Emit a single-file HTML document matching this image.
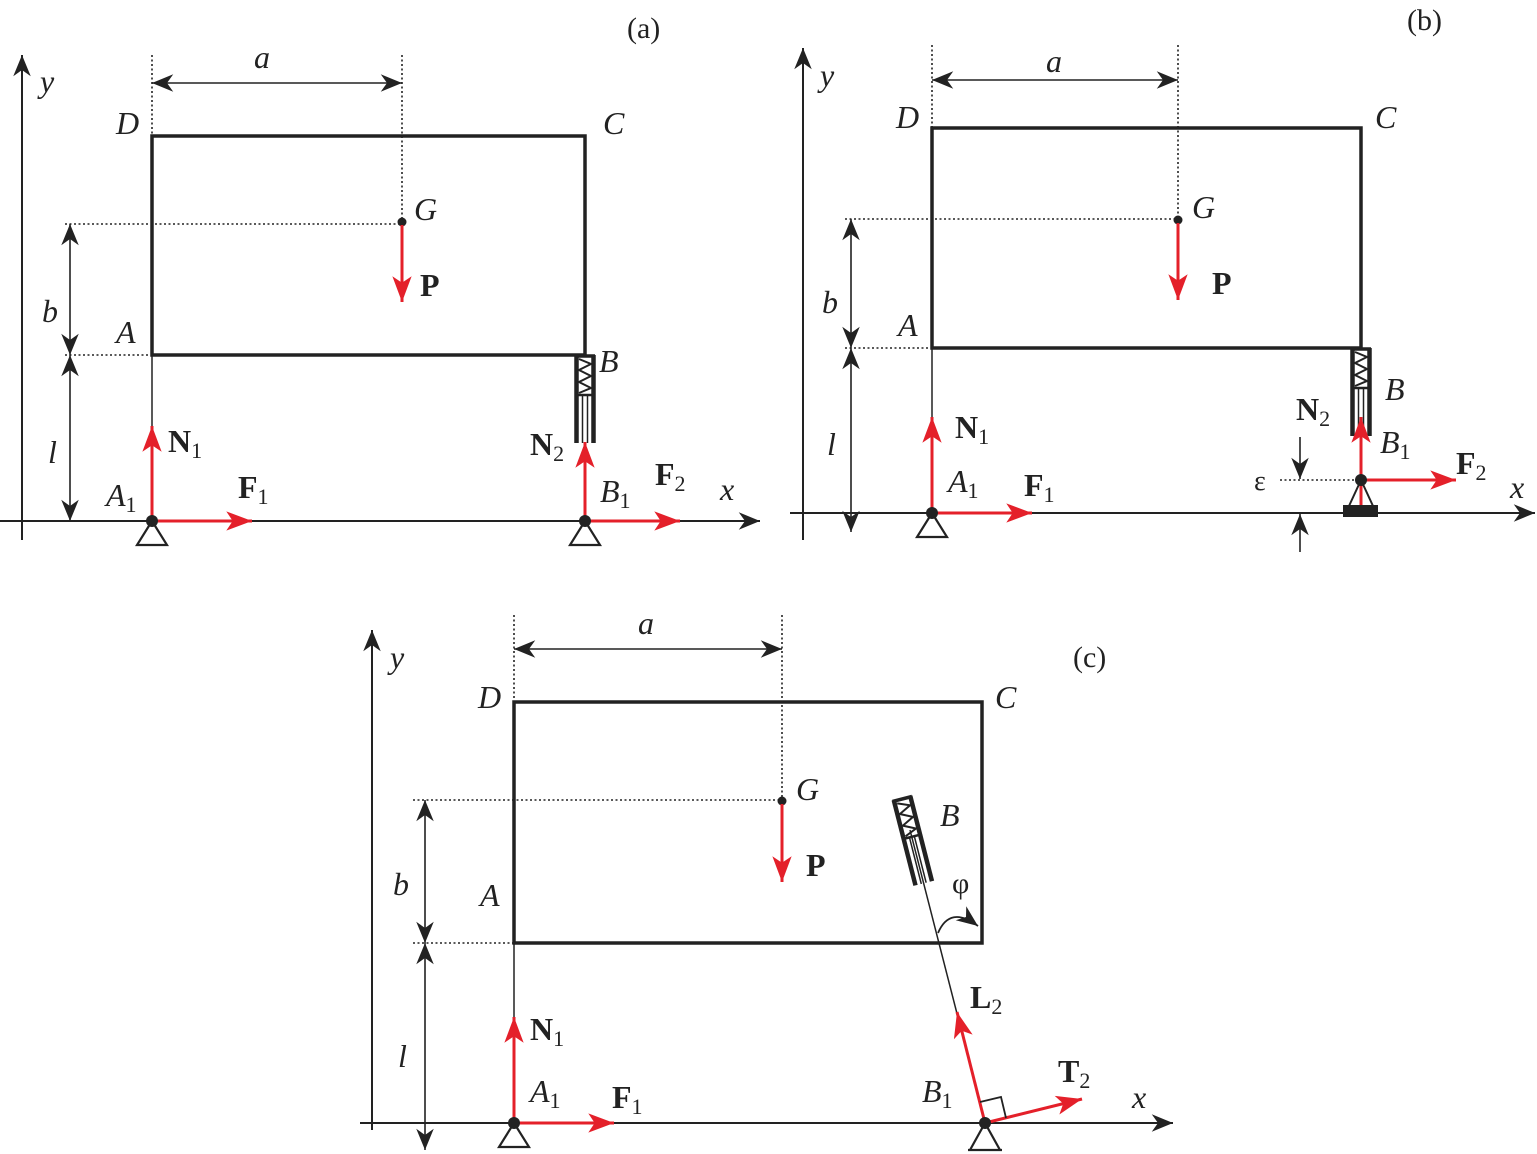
<!DOCTYPE html>
<html><head><meta charset="utf-8"><style>
html,body{margin:0;padding:0;background:#fff}
svg{display:block}
text{font-family:"Liberation Serif","DejaVu Serif",serif;fill:#222}
.it{font-style:italic;font-size:32px}
.bf{font-weight:bold;font-size:32px}
.sub{font-size:22px;font-weight:normal;font-style:normal}
.lb{font-size:30px}
</style></head><body>
<svg width="1537" height="1154" viewBox="0 0 1537 1154" xmlns="http://www.w3.org/2000/svg">
<defs>
<marker id="ak" markerUnits="userSpaceOnUse" markerWidth="30" markerHeight="30" viewBox="-20 -10 24 20" refX="0" refY="0" orient="auto-start-reverse"><path d="M0,0 L-17,-7 L-12,0 L-17,7 Z" fill="#222"/></marker>
<marker id="ar" markerUnits="userSpaceOnUse" markerWidth="30" markerHeight="30" viewBox="-26 -12 28 24" refX="0" refY="0" orient="auto"><path d="M0,0 L-24,-9 L-18,0 L-24,9 Z" fill="#e4202a"/></marker>
<g id="spring" fill="none" stroke="#222">
<line x1="-8.5" y1="0" x2="-8.5" y2="88" stroke-width="4.5"/>
<line x1="8.5" y1="0" x2="8.5" y2="88" stroke-width="4.5"/>
<line x1="-10" y1="1" x2="10" y2="1" stroke-width="3.5"/>
<polyline points="-6,4 6,9 -6,15 6,21 -6,27 6,33 -6,38" stroke-width="2"/>
<line x1="-8" y1="40" x2="8" y2="40" stroke-width="2.5"/>
<line x1="-2.5" y1="40" x2="-2.5" y2="88" stroke-width="1.5"/>
<line x1="2.5" y1="40" x2="2.5" y2="88" stroke-width="1.5"/>
</g>
<g id="pin" fill="none" stroke="#222" stroke-width="2.2"><path d="M0,0 L-15,24 L15,24 Z"/></g>
</defs>

<!-- ============ (a) ============ -->
<text x="627" y="38" class="lb">(a)</text>
<line x1="22" y1="540" x2="22" y2="55" stroke="#222" stroke-width="2" marker-end="url(#ak)"/>
<text x="40" y="92" class="it">y</text>
<line x1="0" y1="521" x2="760" y2="521" stroke="#222" stroke-width="2" marker-end="url(#ak)"/>
<text x="720" y="500" class="it">x</text>
<g stroke="#222" stroke-width="1.6" stroke-dasharray="2,2.5" fill="none">
<line x1="152" y1="55" x2="152" y2="136"/><line x1="402" y1="55" x2="402" y2="222"/>
<line x1="65" y1="224" x2="402" y2="224"/><line x1="65" y1="355" x2="152" y2="355"/>
</g>
<line x1="152" y1="83" x2="402" y2="83" stroke="#222" stroke-width="1.6" marker-start="url(#ak)" marker-end="url(#ak)"/>
<text x="254" y="68" class="it">a</text>
<line x1="70" y1="224" x2="70" y2="355" stroke="#222" stroke-width="1.6" marker-start="url(#ak)" marker-end="url(#ak)"/>
<line x1="70" y1="355" x2="70" y2="521" stroke="#222" stroke-width="1.6" marker-start="url(#ak)" marker-end="url(#ak)"/>
<text x="42" y="322" class="it">b</text><text x="48" y="463" class="it">l</text>
<rect x="152" y="136" width="433" height="219" fill="none" stroke="#222" stroke-width="3.5"/>
<text x="116" y="134" class="it">D</text><text x="603" y="134" class="it">C</text>
<text x="116" y="343" class="it">A</text><text x="599" y="372" class="it">B</text>
<circle cx="402" cy="222" r="4.5" fill="#222"/><text x="414" y="220" class="it">G</text>
<line x1="402" y1="225" x2="402" y2="302" stroke="#e4202a" stroke-width="3" marker-end="url(#ar)"/>
<text x="420" y="296" class="bf">P</text>
<line x1="152" y1="355" x2="152" y2="521" stroke="#222" stroke-width="1.5"/>
<line x1="152" y1="521" x2="152" y2="426" stroke="#e4202a" stroke-width="3" marker-end="url(#ar)"/>
<line x1="152" y1="521" x2="252" y2="521" stroke="#e4202a" stroke-width="3" marker-end="url(#ar)"/>
<text x="168" y="452" class="bf">N<tspan class="sub" dy="6">1</tspan></text>
<text x="238" y="498" class="bf">F<tspan class="sub" dy="6">1</tspan></text>
<text x="106" y="506" class="it">A<tspan class="sub" dy="6">1</tspan></text>
<use href="#pin" x="152" y="521"/><circle cx="152" cy="521" r="6" fill="#222"/>
<use href="#spring" x="585" y="355"/>
<line x1="585" y1="521" x2="585" y2="442" stroke="#e4202a" stroke-width="3" marker-end="url(#ar)"/>
<line x1="585" y1="521" x2="680" y2="521" stroke="#e4202a" stroke-width="3" marker-end="url(#ar)"/>
<text x="530" y="455" class="bf">N<tspan class="sub" dy="6">2</tspan></text>
<text x="655" y="485" class="bf">F<tspan class="sub" dy="6">2</tspan></text>
<text x="600" y="502" class="it">B<tspan class="sub" dy="6">1</tspan></text>
<use href="#pin" x="585" y="521"/><circle cx="585" cy="521" r="6" fill="#222"/>

<!-- ============ (b) ============ -->
<text x="1407" y="30" class="lb">(b)</text>
<line x1="803" y1="540" x2="803" y2="48" stroke="#222" stroke-width="2" marker-end="url(#ak)"/>
<text x="820" y="86" class="it">y</text>
<line x1="790" y1="513" x2="1535" y2="513" stroke="#222" stroke-width="2" marker-end="url(#ak)"/>
<text x="1510" y="498" class="it">x</text>
<g stroke="#222" stroke-width="1.6" stroke-dasharray="2,2.5" fill="none">
<line x1="932" y1="45" x2="932" y2="128"/><line x1="1178" y1="45" x2="1178" y2="218"/>
<line x1="845" y1="219" x2="1178" y2="219"/><line x1="845" y1="348" x2="932" y2="348"/>
<line x1="1280" y1="480" x2="1361" y2="480"/>
</g>
<line x1="932" y1="80" x2="1178" y2="80" stroke="#222" stroke-width="1.6" marker-start="url(#ak)" marker-end="url(#ak)"/>
<text x="1046" y="72" class="it">a</text>
<line x1="851" y1="219" x2="851" y2="348" stroke="#222" stroke-width="1.6" marker-start="url(#ak)" marker-end="url(#ak)"/>
<line x1="851" y1="348" x2="851" y2="532" stroke="#222" stroke-width="1.6" marker-start="url(#ak)" marker-end="url(#ak)"/>
<text x="822" y="313" class="it">b</text><text x="827" y="455" class="it">l</text>
<rect x="932" y="128" width="429" height="220" fill="none" stroke="#222" stroke-width="3.5"/>
<text x="896" y="128" class="it">D</text><text x="1375" y="128" class="it">C</text>
<text x="898" y="336" class="it">A</text><text x="1385" y="400" class="it">B</text>
<circle cx="1178" cy="220" r="4.5" fill="#222"/><text x="1192" y="218" class="it">G</text>
<line x1="1178" y1="223" x2="1178" y2="300" stroke="#e4202a" stroke-width="3" marker-end="url(#ar)"/>
<text x="1212" y="294" class="bf">P</text>
<line x1="932" y1="348" x2="932" y2="513" stroke="#222" stroke-width="1.5"/>
<line x1="932" y1="513" x2="932" y2="417" stroke="#e4202a" stroke-width="3" marker-end="url(#ar)"/>
<line x1="932" y1="513" x2="1032" y2="513" stroke="#e4202a" stroke-width="3" marker-end="url(#ar)"/>
<text x="955" y="438" class="bf">N<tspan class="sub" dy="6">1</tspan></text>
<text x="1024" y="496" class="bf">F<tspan class="sub" dy="6">1</tspan></text>
<text x="948" y="492" class="it">A<tspan class="sub" dy="6">1</tspan></text>
<use href="#pin" x="932" y="513"/><circle cx="932" cy="513" r="6" fill="#222"/>
<use href="#spring" x="1361" y="348"/>
<line x1="1361" y1="480" x2="1361" y2="417" stroke="#e4202a" stroke-width="3" marker-end="url(#ar)"/>
<line x1="1361" y1="480" x2="1456" y2="480" stroke="#e4202a" stroke-width="3" marker-end="url(#ar)"/>
<path d="M1361,480 L1349,506 M1361,480 L1373,506" stroke="#222" stroke-width="2" fill="none"/>
<line x1="1361" y1="480" x2="1361" y2="506" stroke="#e4202a" stroke-width="3"/>
<rect x="1343" y="505" width="35" height="12" fill="#222"/>
<circle cx="1361" cy="480" r="6" fill="#222"/>
<text x="1296" y="420" class="bf">N<tspan class="sub" dy="6">2</tspan></text>
<text x="1456" y="474" class="bf">F<tspan class="sub" dy="6">2</tspan></text>
<text x="1380" y="453" class="it">B<tspan class="sub" dy="6">1</tspan></text>
<line x1="1300" y1="437" x2="1300" y2="479" stroke="#222" stroke-width="1.6" marker-end="url(#ak)"/>
<line x1="1300" y1="552" x2="1300" y2="514" stroke="#222" stroke-width="1.6" marker-end="url(#ak)"/>
<text x="1254" y="490" style="font-size:28px">ε</text>

<!-- ============ (c) ============ -->
<text x="1073" y="667" class="lb">(c)</text>
<line x1="372" y1="1130" x2="372" y2="630" stroke="#222" stroke-width="2" marker-end="url(#ak)"/>
<text x="390" y="668" class="it">y</text>
<line x1="360" y1="1123" x2="1173" y2="1123" stroke="#222" stroke-width="2" marker-end="url(#ak)"/>
<text x="1132" y="1108" class="it">x</text>
<g stroke="#222" stroke-width="1.6" stroke-dasharray="2,2.5" fill="none">
<line x1="514" y1="615" x2="514" y2="702"/><line x1="782" y1="615" x2="782" y2="798"/>
<line x1="413" y1="800" x2="782" y2="800"/><line x1="413" y1="943" x2="514" y2="943"/>
</g>
<line x1="514" y1="649" x2="782" y2="649" stroke="#222" stroke-width="1.6" marker-start="url(#ak)" marker-end="url(#ak)"/>
<text x="638" y="634" class="it">a</text>
<line x1="425" y1="800" x2="425" y2="943" stroke="#222" stroke-width="1.6" marker-start="url(#ak)" marker-end="url(#ak)"/>
<line x1="425" y1="943" x2="425" y2="1150" stroke="#222" stroke-width="1.6" marker-start="url(#ak)" marker-end="url(#ak)"/>
<text x="393" y="895" class="it">b</text><text x="398" y="1067" class="it">l</text>
<rect x="514" y="702" width="468" height="241" fill="none" stroke="#222" stroke-width="3.5"/>
<text x="478" y="708" class="it">D</text><text x="995" y="708" class="it">C</text>
<text x="480" y="906" class="it">A</text><text x="940" y="826" class="it">B</text>
<circle cx="782" cy="801" r="4.5" fill="#222"/><text x="796" y="800" class="it">G</text>
<line x1="782" y1="804" x2="782" y2="882" stroke="#e4202a" stroke-width="3" marker-end="url(#ar)"/>
<text x="806" y="876" class="bf">P</text>
<line x1="514" y1="943" x2="514" y2="1123" stroke="#222" stroke-width="1.5"/>
<line x1="514" y1="1123" x2="514" y2="1017" stroke="#e4202a" stroke-width="3" marker-end="url(#ar)"/>
<line x1="514" y1="1123" x2="614" y2="1123" stroke="#e4202a" stroke-width="3" marker-end="url(#ar)"/>
<text x="530" y="1040" class="bf">N<tspan class="sub" dy="6">1</tspan></text>
<text x="612" y="1108" class="bf">F<tspan class="sub" dy="6">1</tspan></text>
<text x="530" y="1102" class="it">A<tspan class="sub" dy="6">1</tspan></text>
<use href="#pin" x="514" y="1123"/><circle cx="514" cy="1123" r="6" fill="#222"/>
<line x1="985" y1="1123" x2="910" y2="830" stroke="#222" stroke-width="1.5"/>
<g transform="translate(902,798) rotate(-14.3)"><use href="#spring"/></g>
<line x1="985" y1="1123" x2="957" y2="1012" stroke="#e4202a" stroke-width="3" marker-end="url(#ar)"/>
<line x1="985" y1="1123" x2="1082" y2="1099" stroke="#e4202a" stroke-width="3" marker-end="url(#ar)"/>
<path d="M980,1102 L1001,1097 L1006,1118" fill="none" stroke="#222" stroke-width="1.8"/>
<path d="M938,933 Q950,905 978,926" fill="none" stroke="#222" stroke-width="1.8" marker-end="url(#ak)"/>
<text x="952" y="893" style="font-size:30px">φ</text>
<text x="970" y="1008" class="bf">L<tspan class="sub" dy="6">2</tspan></text>
<text x="1058" y="1082" class="bf">T<tspan class="sub" dy="6">2</tspan></text>
<text x="922" y="1102" class="it">B<tspan class="sub" dy="6">1</tspan></text>
<path d="M985,1123 L970,1150 M985,1123 L1000,1150 M968,1150 L1002,1150" stroke="#222" stroke-width="2.2" fill="none"/>
<circle cx="985" cy="1123" r="6" fill="#222"/>
</svg>
</body></html>
